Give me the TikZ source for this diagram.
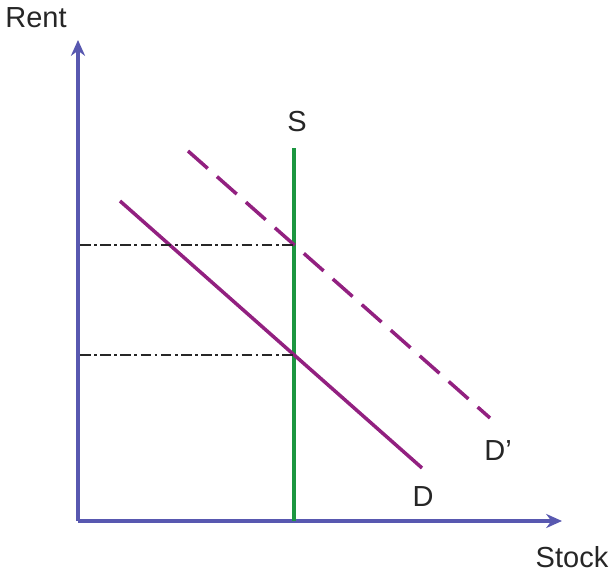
\documentclass[tikz,border=0pt]{standalone}
\usepackage{fontspec}
\setmainfont{Liberation Sans}
\usetikzlibrary{arrows.meta}
\definecolor{axisblue}{RGB}{88,88,176}
\definecolor{demandpurple}{RGB}{146,32,128}
\definecolor{supplygreen}{RGB}{28,150,64}

\begin{document}
\begin{tikzpicture}[
  axis/.style={draw=axisblue, line width=2pt, -{Stealth[length=9pt,width=8pt]}},
  demand/.style={draw=demandpurple, line width=2pt},
  guide/.style={draw=black!85, line width=0.9pt, dash pattern=on 6pt off 2pt on 1.5pt off 2pt},
  lbl/.style={font=\fontsize{16.5}{20}\selectfont, text=black!85}
]
\useasboundingbox (0,0) rectangle (12.24,11.52);
\coordinate (O) at (1.56,1.10);
\coordinate (ytop) at (1.56,10.72);
\coordinate (xend) at (11.24,1.10);
\draw [axis] (O) -- (ytop);
\draw [axis] (O) -- (xend);
\node [lbl] (rent) at (0.72,11.16) {Rent};
\node [lbl] (stock) at (11.44,0.38) {Stock};

% supply
\coordinate (Sbot) at (5.88,1.10);
\coordinate (Stop) at (5.88,8.56);
\draw [draw=supplygreen, line width=2pt] (Sbot) -- (Stop);
\node [lbl] (S) at (5.94,9.08) {S};

% demand curves
\coordinate (Da) at (2.40,7.50);
\coordinate (Db) at (8.44,2.16);
\draw [demand] (Da) -- (Db);
\node [lbl] (D) at (8.46,1.58) {D};
\coordinate (Dpa) at (3.76,8.50);
\coordinate (Dpb) at (9.80,3.16);
\draw [demand, dash pattern=on 15pt off 7pt] (Dpa) -- (Dpb);
\node [lbl] (Dp) at (9.96,2.50) {D'};

% equilibrium rents
\coordinate (Ehigh) at (5.88,6.62);
\coordinate (Elow) at (5.88,4.42);
\coordinate (Rhigh) at (1.60,6.62);
\coordinate (Rlow) at (1.60,4.42);
\draw [guide] (Rhigh) -- (Ehigh);
\draw [guide] (Rlow) -- (Elow);
\end{tikzpicture}
\end{document}
